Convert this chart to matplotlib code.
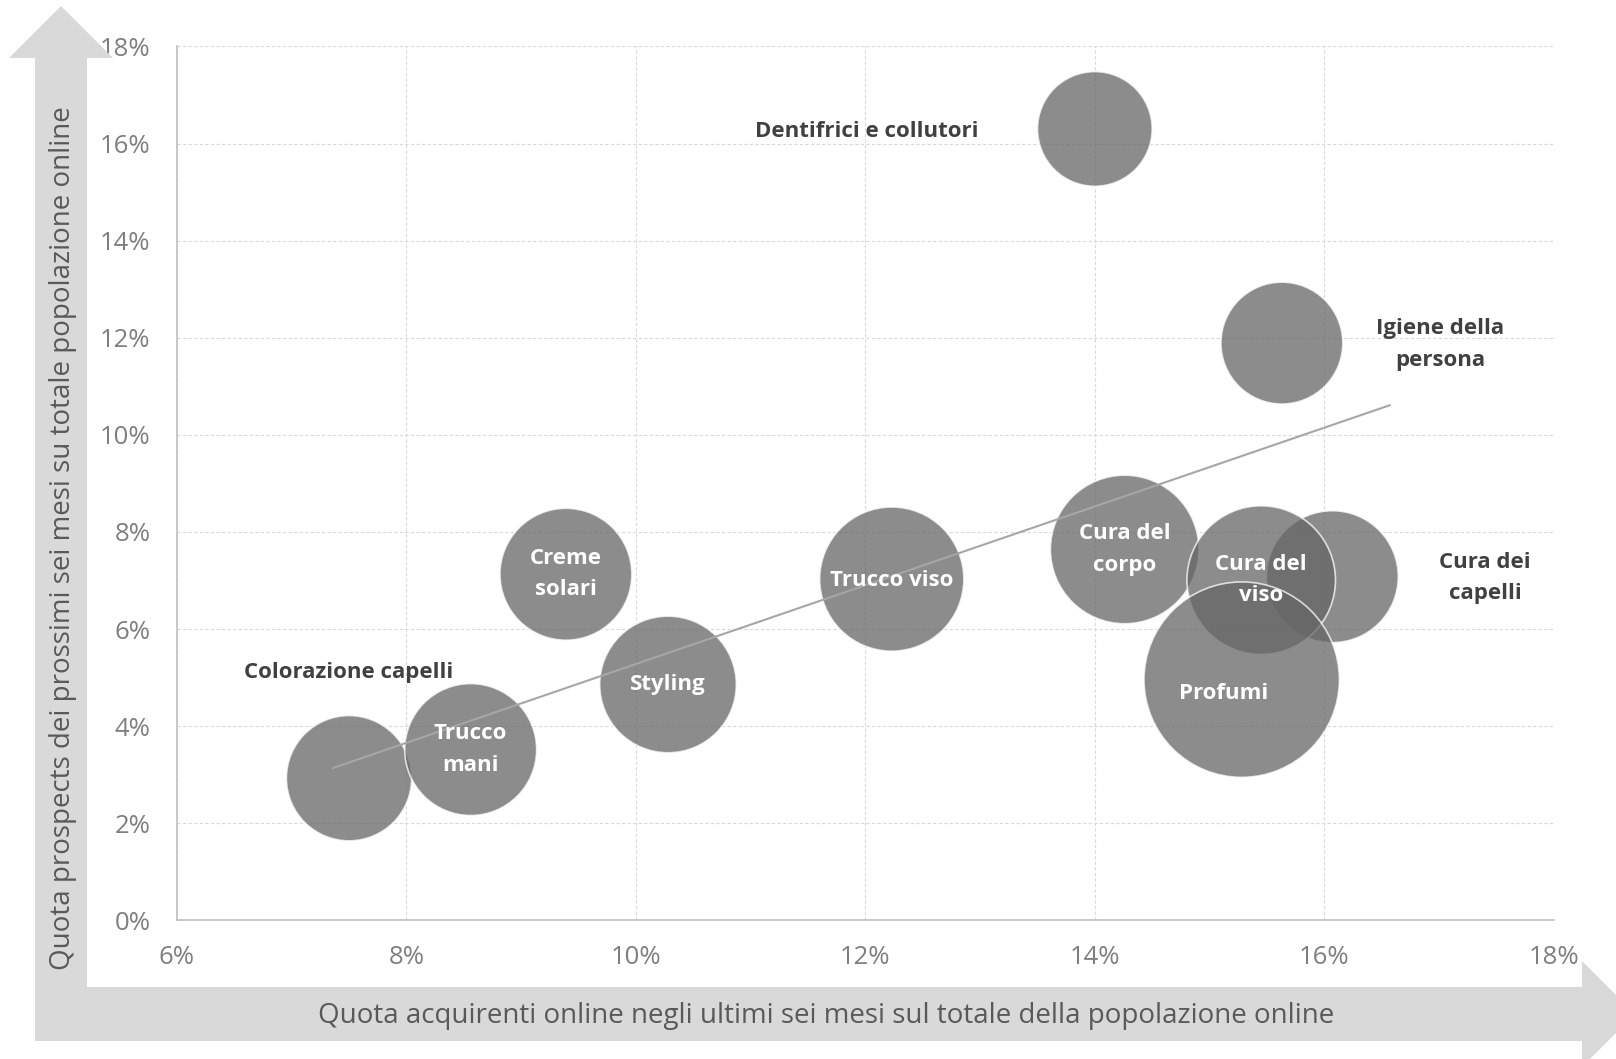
import matplotlib.pyplot as plt
from matplotlib.patches import Polygon
from matplotlib.ticker import FuncFormatter

# bubble data (percent values), drawn in this order
categorie = ['Colorazione capelli', 'Trucco\nmani', 'Styling', 'Creme\nsolari',
             'Trucco viso', 'Cura del\ncorpo', 'Dentifrici e collutori',
             'Igiene della\npersona', 'Cura dei\ncapelli', 'Cura del\nviso', 'Profumi']
acquirenti = [7.50, 8.56, 10.28, 9.39, 12.23, 14.26, 14.00, 15.63, 16.07, 15.45, 15.28]
prospects = [2.93, 3.52, 4.86, 7.13, 7.03, 7.64, 16.30, 11.89, 7.08, 7.01, 4.96]
dimensione = [37, 41, 44, 41, 49, 52, 31, 35, 41, 52, 90]

# linear trend line end points
trend_x = [7.36, 16.57]
trend_y = [3.14, 10.61]

x_ticks = [6, 8, 10, 12, 14, 16, 18]
y_ticks = [0, 2, 4, 6, 8, 10, 12, 14, 16, 18]

plt.rcParams['font.family'] = ['Open Sans', 'DejaVu Sans']

fig = plt.figure(figsize=(16.16, 10.59), dpi=100)

# background arrows for the two axes
arrow_col = '#d9d9d9'
W, H = 1616, 1059
def fig_poly(pts):
    return Polygon([(px / W, 1 - py / H) for px, py in pts], closed=True,
                   transform=fig.transFigure, facecolor=arrow_col,
                   edgecolor='none', zorder=0)
fig.patches.append(fig_poly([(35, 1041), (35, 58), (9, 58), (61, 6), (113, 58),
                             (87, 58), (87, 987), (35, 987)]))
fig.patches.append(fig_poly([(35, 987), (1582, 987), (1582, 961), (1635, 1014),
                             (1582, 1067), (1582, 1041), (35, 1041)]))

ax = fig.add_axes([0.1095, 0.1308, 0.852, 0.8254])
ax.set_facecolor('none')

ax.scatter(acquirenti, prospects, s=[d * 220 for d in dimensione],
           color='#666666', alpha=0.75, edgecolors='white', linewidths=1.2,
           zorder=3)
ax.plot(trend_x, trend_y, color='#a6a6a6', lw=1.5, zorder=4)

# labels: white inside the bubble, dark beside it for the others
esterni = {'Dentifrici e collutori': (-164, -2), 'Igiene della\npersona': (114, -1),
           'Cura dei\ncapelli': (110, -1), 'Colorazione capelli': (0, 76)}
interni = {'Profumi': (-13, -10), 'Trucco viso': (0, -1)}
for nome, xv, yv in zip(categorie, acquirenti, prospects):
    if nome in esterni:
        ax.annotate(nome, (xv, yv), xytext=esterni[nome], textcoords='offset points',
                    ha='center', va='center', fontsize=16, fontweight='bold',
                    color='#404040', zorder=5, linespacing=1.65)
    else:
        ax.annotate(nome, (xv, yv), xytext=interni.get(nome, (0, 0)),
                    textcoords='offset points', ha='center', va='center',
                    fontsize=16, fontweight='bold', color='white', zorder=5,
                    linespacing=1.65)

ax.set_xlim(6, 18)
ax.set_ylim(0, 18)
ax.set_xticks(x_ticks)
ax.set_yticks(y_ticks)
pct = FuncFormatter(lambda v, p: f'{v:.0f}%')
ax.xaxis.set_major_formatter(pct)
ax.yaxis.set_major_formatter(pct)
ax.tick_params(length=0, labelsize=18.5, labelcolor='#7f7f7f')
ax.tick_params(axis='y', pad=19)
ax.tick_params(axis='x', pad=18)
ax.grid(True, color='#d9d9d9', linestyle=(0, (3, 2)), lw=0.8, zorder=0)
ax.set_axisbelow(True)
for side in ['top', 'right']:
    ax.spines[side].set_visible(False)
for side in ['left', 'bottom']:
    ax.spines[side].set_color('#bfbfbf')
    ax.spines[side].set_linewidth(1.2)

fig.text(826 / W, 1 - 1016 / H,
         'Quota acquirenti online negli ultimi sei mesi sul totale della popolazione online',
         ha='center', va='center', fontsize=20, color='#595959')
fig.text(63 / W, 1 - 538 / H,
         'Quota prospects dei prossimi sei mesi su totale popolazione online',
         ha='center', va='center', rotation=90, fontsize=20, color='#595959')

fig.savefig('out.png', dpi=100)
